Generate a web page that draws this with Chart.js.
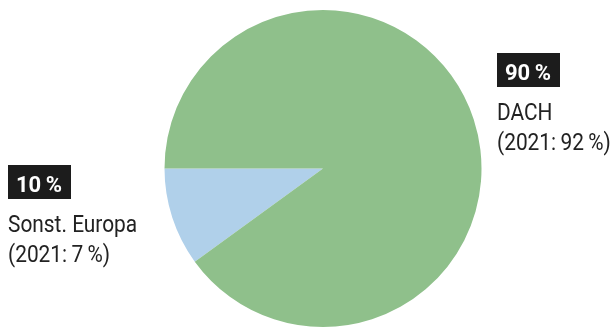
<!DOCTYPE html>
<html>
<head>
<meta charset="utf-8">
<script src="https://cdn.jsdelivr.net/npm/chart.js@4/dist/chart.umd.min.js"></script>
<style>
  html, body { margin: 0; padding: 0; background: #fff; }
  #wrap { width: 616px; height: 327px; position: relative; }
</style>
</head>
<body>
<div id="wrap"><canvas id="umsatzRegionen"></canvas></div>
<script>
var regionen = ['Sonst. Europa', 'DACH'];
var anteile = [10, 90];
var vorjahr = [7, 92];
var farben = ['#b0d0ea', '#8fc08b'];

// label blocks: box with share, region name, prior year line
var labelPos = [
    { x: 8, y: 165 },
    { x: 497, y: 53 }
];

// condensed look: Roboto squeezed horizontally
function schmalText(ctx, txt, x, y, sx) {
    ctx.save();
    ctx.translate(x, y);
    ctx.scale(sx, 1);
    ctx.fillText(txt, 0, 0);
    ctx.restore();
}

var labelPlugin = {
    id: 'regionLabels',
    afterDraw: function (chart) {
        var ctx = chart.ctx;
        ctx.save();
        ctx.textBaseline = 'alphabetic';
        for (var i = 0; i < regionen.length; i++) {
            var p = labelPos[i];
            var txt = anteile[i] + '\u2009%';
            ctx.font = 'bold 22px Roboto, sans-serif';
            var w = ctx.measureText(txt).width;
            ctx.fillStyle = '#1c1c1c';
            ctx.fillRect(p.x, p.y, w + 17, 34);
            ctx.fillStyle = '#ffffff';
            ctx.fillText(txt, p.x + 8, p.y + 27);

            ctx.font = '24px Roboto, sans-serif';
            ctx.fillStyle = '#222222';
            schmalText(ctx, regionen[i], p.x, p.y + 67, 0.87);
            schmalText(ctx, '(2021:\u2009' + vorjahr[i] + '\u2009%)', p.x, p.y + 97, 0.87);
        }
        ctx.restore();
    }
};

var grafico = new Chart(document.getElementById('umsatzRegionen'), {
    type: 'pie',
    data: {
        labels: regionen,
        datasets: [{
            data: anteile,
            backgroundColor: farben,
            borderWidth: 0
        }]
    },
    options: {
        responsive: true,
        maintainAspectRatio: false,
        animation: false,
        rotation: 234,
        layout: { padding: { top: 10, bottom: 0, left: 30, right: 0 } },
        plugins: {
            legend: { display: false },
            tooltip: { enabled: false }
        }
    },
    plugins: [labelPlugin]
});
</script>
</body>
</html>
